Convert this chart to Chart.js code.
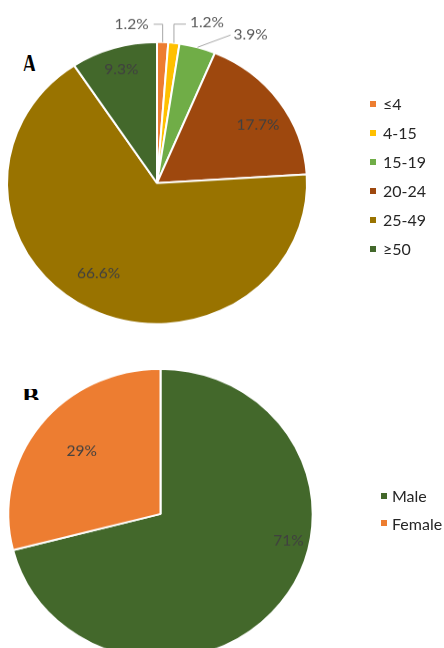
<!DOCTYPE html>
<html>
<head>
<meta charset="utf-8">
<script src="https://cdn.jsdelivr.net/npm/chart.js@4"></script>
<style>
  html, body { margin: 0; padding: 0; background: #fff; width: 444px; height: 648px; overflow: hidden; position: relative; }
  .wrap { position: absolute; left: 0; transform-origin: 0 0; }
  .tag { position: absolute; overflow: hidden; font-family: "Liberation Serif", serif; font-weight: bold; color: #000; }
  .tag span { position: absolute; left: 0; transform-origin: 0 0; }
  .legend { position: absolute; font-family: Lato, sans-serif; font-size: 16px; color: #262626; }
  .legend div { position: absolute; left: 0; height: 16px; display: flex; align-items: center; white-space: nowrap; }
  .legend i { display: inline-block; width: 6px; height: 6px; }
</style>
</head>
<body>
<div class="tag" style="left:22px;top:55px;width:20px;height:16px;font-size:30px;line-height:30px"><span style="top:-6px;transform:scaleX(0.68)">A</span></div>
<div class="tag" style="left:22px;top:389px;width:20px;height:11px;font-size:26px;line-height:26px"><span style="top:-5px">B</span></div>

<div class="wrap" id="wrapA" style="top:0px;transform:scaleY(0.94)">
  <canvas id="ageChart" width="444" height="400"></canvas>
</div>
<div class="wrap" id="wrapB" style="top:350px;transform:scaleY(0.954)">
  <canvas id="sexChart" width="444" height="350"></canvas>
</div>

<div class="legend" id="legendA" style="left:370px;top:0px"></div>
<div class="legend" id="legendB" style="left:381px;top:0px"></div>

<script>
// panel A: age groups
const ageLabels = ["≤4", "4-15", "15-19", "20-24", "25-49", "≥50"];
const ageShares = [1.2, 1.2, 3.9, 17.7, 66.6, 9.3];
const ageColors = ["#ED7D31", "#FFC000", "#70AD47", "#9E480E", "#997300", "#43682B"];

// panel B: sex
const sexLabels = ["Male", "Female"];
const sexShares = [71, 29];
const sexColors = ["#43682B", "#ED7D31"];

// label placement per slice (r = fraction of radius inside, path = leader line outside)
const agePlace = [
  { path: [[0, -19], [-9, 0]], align: "right", tx: -5, ty: 0 },
  { path: [[0, -20], [12, 0]], align: "left", tx: 4, ty: -2 },
  { path: [[33, -13]], align: "left", tx: 3, ty: 0 },
  { r: 0.79, t: 0.56 },
  { r: 0.75, t: 0.52 },
  { r: 0.84, t: 0.51 },
];
const sexPlace = [
  { r: 0.86, t: 0.40 },
  { r: 0.675, t: 0.52 },
];

const sliceLabels = {
  id: "sliceLabels",
  afterDatasetsDraw(chart, args, opts) {
    const ctx = chart.ctx;
    const meta = chart.getDatasetMeta(0);
    const values = chart.data.datasets[0].data;
    ctx.save();
    ctx.font = "15.5px Lato";
    ctx.textBaseline = "middle";
    meta.data.forEach((arc, i) => {
      const p = opts.place[i];
      const { x, y, startAngle, endAngle, outerRadius } =
        arc.getProps(["x", "y", "startAngle", "endAngle", "outerRadius"], true);
      const a = startAngle + (endAngle - startAngle) * (p.t ?? 0.5);
      const text = values[i] + "%";
      if (p.r) {
        ctx.fillStyle = "#404040";
        ctx.textAlign = "center";
        ctx.fillText(text, x + Math.cos(a) * outerRadius * p.r, y + Math.sin(a) * outerRadius * p.r);
      } else {
        let px = x + Math.cos(a) * outerRadius;
        let py = y + Math.sin(a) * outerRadius;
        ctx.strokeStyle = "#A6A6A6";
        ctx.lineWidth = 1;
        ctx.beginPath();
        ctx.moveTo(px, py);
        p.path.forEach(([dx, dy]) => { px += dx; py += dy; ctx.lineTo(px, py); });
        ctx.stroke();
        ctx.fillStyle = "#595959";
        ctx.textAlign = p.align;
        ctx.fillText(text, px + p.tx, py + p.ty);
      }
    });
    ctx.restore();
  }
};

function pieConfig(labels, values, colors, radius, padding, place) {
  return {
    type: "pie",
    data: {
      labels: labels,
      datasets: [{
        data: values,
        backgroundColor: colors,
        borderColor: "#ffffff",
        borderWidth: 2,
      }],
    },
    options: {
      responsive: false,
      animation: false,
      radius: radius,
      layout: { padding: padding },
      plugins: {
        legend: { display: false },
        tooltip: { enabled: false },
        sliceLabels: { place: place },
      },
    },
    plugins: [sliceLabels],
  };
}

const ageChart = new Chart(document.getElementById("ageChart"),
  pieConfig(ageLabels, ageShares, ageColors, 150, { left: 0, right: 130, top: 0, bottom: 10.6 }, agePlace));
const sexChart = new Chart(document.getElementById("sexChart"),
  pieConfig(sexLabels, sexShares, sexColors, 152.2, { left: 0, right: 123, top: 0, bottom: 6.2 }, sexPlace));

function buildLegend(el, chart, firstY, step, gap) {
  const items = chart.options.plugins.legend.labels.generateLabels(chart);
  items.forEach((item, i) => {
    const row = document.createElement("div");
    row.style.top = (firstY + i * step - 8) + "px";
    const box = document.createElement("i");
    box.style.background = item.fillStyle;
    box.style.marginRight = gap + "px";
    row.appendChild(box);
    row.appendChild(document.createTextNode(item.text));
    el.appendChild(row);
  });
}
buildLegend(document.getElementById("legendA"), ageChart, 103.5, 29, 7);
buildLegend(document.getElementById("legendB"), sexChart, 495.7, 27.3, 5);
</script>
</body>
</html>
